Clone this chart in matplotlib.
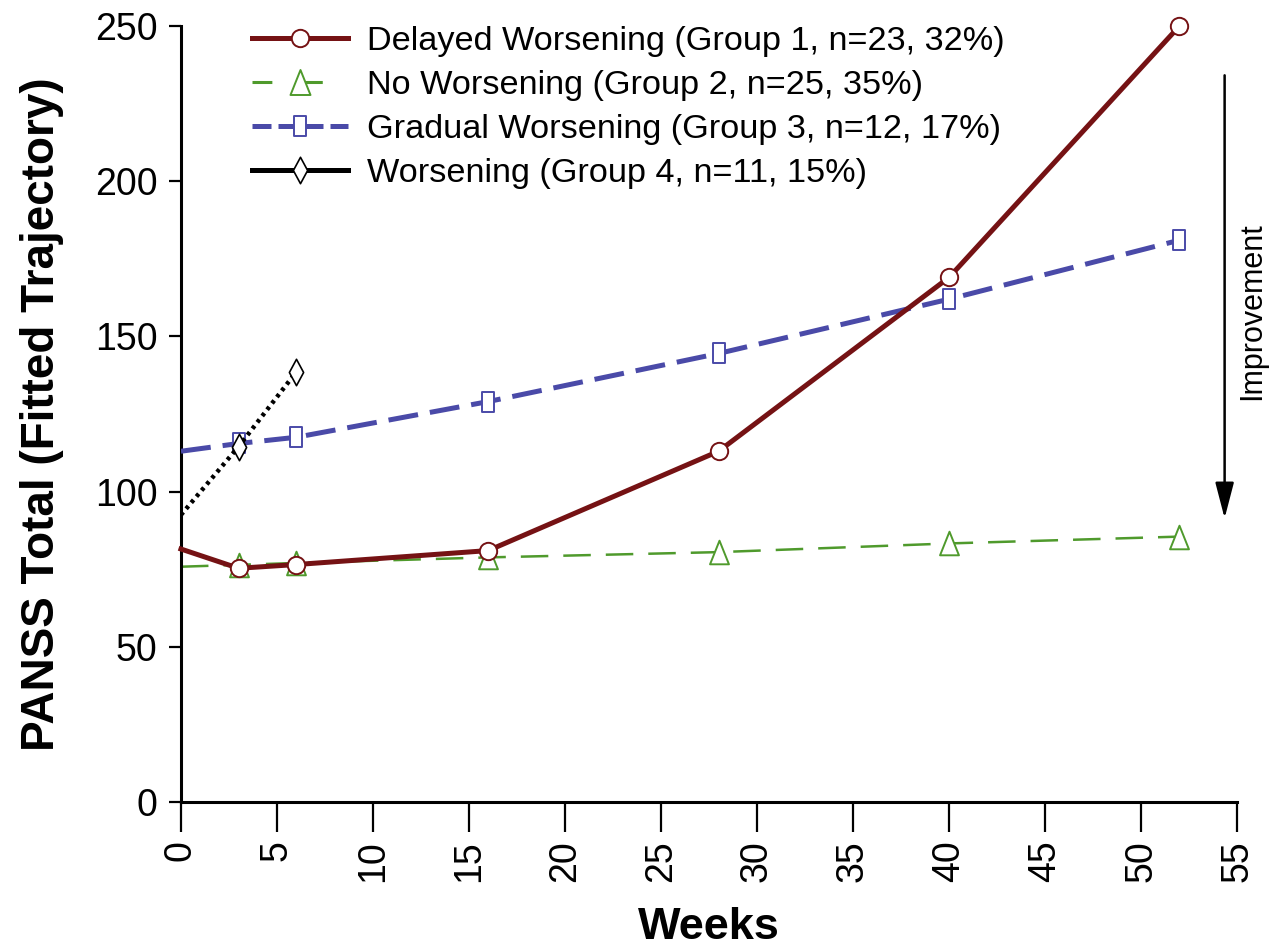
import numpy as np
import matplotlib
matplotlib.use('Agg')
import matplotlib.pyplot as plt
from matplotlib.lines import Line2D
from matplotlib.path import Path

plt.rcParams['font.family'] = ['Liberation Sans', 'DejaVu Sans']

# fitted trajectories (weeks, PANSS total)
weeks = [0, 3, 6, 16, 28, 40, 52]
g1_vals = [81.5, 75.3, 76.5, 81.0, 113.0, 169.0, 250.0]   # delayed worsening
g2_vals = [75.8, 76.4, 77.0, 78.8, 80.5, 83.3, 85.5]      # no worsening
g3_vals = [113.0, 115.5, 117.5, 129.0, 144.5, 162.0, 181.0]  # gradual worsening
g4_weeks = [0, 3, 6]
g4_vals = [92.5, 114.5, 138.5]                           # worsening

labels = ['Delayed Worsening (Group 1, n=23, 32%)',
          'No Worsening (Group 2, n=25, 35%)',
          'Gradual Worsening (Group 3, n=12, 17%)',
          'Worsening (Group 4, n=11, 15%)']

c1 = '#751214'
c2 = '#4f9a2c'
c3 = '#4a4aa8'
c4 = 'black'

# narrow marker shapes like the original
box = Path([(-0.29, -0.5), (0.29, -0.5), (0.29, 0.5), (-0.29, 0.5), (-0.29, -0.5)],
           [Path.MOVETO, Path.LINETO, Path.LINETO, Path.LINETO, Path.CLOSEPOLY])
tri = Path([(0, 0.5), (0.4, -0.5), (-0.4, -0.5), (0, 0.5)],
           [Path.MOVETO, Path.LINETO, Path.LINETO, Path.CLOSEPOLY])
dia = Path([(0, 0.5), (0.27, 0), (0, -0.5), (-0.27, 0), (0, 0.5)],
           [Path.MOVETO, Path.LINETO, Path.LINETO, Path.LINETO, Path.CLOSEPOLY])

fig = plt.figure(figsize=(12.78, 9.48), dpi=100)
ax = fig.add_axes([0.1416, 0.154, 0.8264, 0.8186])

ax.plot(weeks, g2_vals, color=c2, lw=1.8, ls=(0, (11, 6)), zorder=2)
ax.plot(weeks[1:], g2_vals[1:], ls='none', marker=tri, ms=17, mfc='white',
        mec=c2, mew=1.4, zorder=3, clip_on=False)

ax.plot(weeks, g3_vals, color=c3, lw=3.6, ls=(0, (6, 2.4)), zorder=4)
ax.plot(weeks[1:], g3_vals[1:], ls='none', marker=box, ms=15, mfc='white',
        mec=c3, mew=1.4, zorder=5, clip_on=False)

ax.plot(g4_weeks, g4_vals, color=c4, lw=3.2, ls=(0, (0.8, 1.0)), zorder=6)
ax.plot(g4_weeks[1:], g4_vals[1:], ls='none', marker=dia, ms=19, mfc='white',
        mec=c4, mew=1.2, zorder=7, clip_on=False)

ax.plot(weeks, g1_vals, color=c1, lw=3.6, zorder=8, clip_on=False)
ax.plot(weeks[1:], g1_vals[1:], ls='none', marker='o', ms=12.5, mfc='white',
        mec=c1, mew=1.4, zorder=9, clip_on=False)

handles = [
    Line2D([], [], color=c1, lw=3.6, marker='o', ms=12.5, mfc='white', mec=c1, mew=1.4),
    Line2D([], [], color=c2, lw=2.2, ls=(0, (6.5, 10)), marker=tri, ms=18, mfc='white', mec=c2, mew=1.4),
    Line2D([], [], color=c3, lw=3.6, ls=(0, (3.8, 1.4)), marker=box, ms=15, mfc='white', mec=c3, mew=1.4),
    Line2D([], [], color=c4, lw=3.6, marker=dia, ms=19, mfc='white', mec=c4, mew=1.2),
]
ax.legend(handles, labels, loc='upper left', bbox_to_anchor=(0.038, 1.04),
          frameon=False, fontsize=24.7, handlelength=2.8, handletextpad=0.55,
          labelspacing=0.38)

ax.set_xlim(0, 55)
ax.set_ylim(0, 250)
ax.set_xticks(np.arange(0, 56, 5))
ax.set_yticks(np.arange(0, 251, 50))
for lab in ax.get_xticklabels():
    lab.set_rotation(90)
ax.tick_params(axis='x', length=21.5, width=1.6, labelsize=27, pad=6)
ax.tick_params(axis='y', length=9, width=1.6, labelsize=27, pad=8)
ax.spines['top'].set_visible(False)
ax.spines['right'].set_visible(False)
ax.spines['left'].set_linewidth(2.2)
ax.spines['bottom'].set_linewidth(2.2)

ax.set_xlabel('Weeks', fontsize=32.5, fontweight='bold', labelpad=18)
ax.set_ylabel('PANSS Total (Fitted Trajectory)', fontsize=33, fontweight='bold', labelpad=22)

ax.annotate('', xy=(54.35, 90.5), xytext=(54.35, 235), xycoords='data',
            arrowprops=dict(arrowstyle='-|>,head_length=1.0,head_width=0.26',
                            color='black', lw=1.8, mutation_scale=22),
            annotation_clip=False)
ax.text(55.8, 158, 'Improvement', rotation=90, fontsize=22,
        ha='center', va='center', clip_on=False)

fig.savefig('out.png', dpi=100)
